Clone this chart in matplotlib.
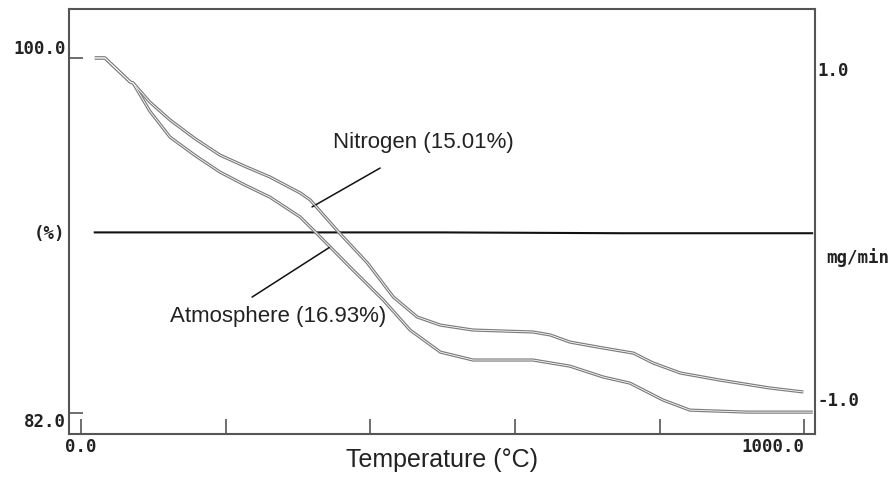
import matplotlib
matplotlib.use("Agg")
import matplotlib.pyplot as plt

# TG curves (weight %, vs temperature in C)
temp_n2 = [19, 33, 68, 72, 95, 123, 158, 192, 227, 261, 303, 317, 356, 396,
           432, 465, 497, 542, 625, 649, 676, 722, 764, 791, 829, 884, 953, 999]
wt_n2 = [100.0, 100.0, 98.78, 98.73, 97.77, 96.86, 95.90, 95.08, 94.50, 93.97,
         93.16, 92.80, 91.18, 89.61, 87.88, 86.87, 86.46, 86.21, 86.11, 85.96,
         85.60, 85.30, 85.04, 84.54, 84.03, 83.67, 83.27, 83.07]

temp_air = [19, 33, 68, 72, 95, 123, 158, 192, 227, 261, 303, 324, 372, 418,
            455, 497, 542, 625, 676, 722, 759, 805, 842, 921, 1012]
wt_air = [100.0, 100.0, 98.78, 98.73, 97.31, 95.99, 95.05, 94.22, 93.55, 92.95,
          91.94, 91.18, 89.40, 87.73, 86.21, 85.09, 84.69, 84.69, 84.38, 83.83,
          83.52, 82.66, 82.15, 82.05, 82.05]

# DTG trace (mg/min), essentially flat
temp_dtg = [19, 250, 500, 750, 1011]
dtg = [0.01, 0.01, 0.01, 0.005, 0.005]

x_ticks = [0, 200, 400, 600, 800, 1000]
x_labels = ["0.0", "", "", "", "", "1000.0"]
y_ticks = [82.0, 100.0]
y_labels = ["82.0", "100.0"]
y2_ticks = [-1.0, 1.0]
y2_labels = ["-1.0", "1.0"]

mono = {"family": "DejaVu Sans Mono", "weight": "bold", "size": 12.5}
sans = "Liberation Sans"

fig = plt.figure(figsize=(8.92, 4.8), dpi=100)
ax = fig.add_axes([0.0774, 0.0958, 0.8363, 0.8854])

for t, w in [(temp_air, wt_air), (temp_n2, wt_n2)]:
    ax.plot(t, w, color="#7c7c7c", lw=2.3, solid_capstyle="butt", zorder=3)
    ax.plot(t, w, color="white", lw=0.6, zorder=4)

ax.set_xlim(-16.6, 1015)
ax.set_ylim(80.94, 102.48)

ax.set_xticks(x_ticks)
ax.set_xticklabels(x_labels, fontdict=mono, color="#222222")
ax.set_yticks(y_ticks)
ax.set_yticklabels(y_labels, fontdict=mono, color="#222222")
ax.tick_params(axis="x", direction="in", length=11, width=1.2, color="#555555", pad=3)
ax.tick_params(axis="y", direction="in", length=10, width=1.2, color="#555555", pad=2)
xl = ax.get_xticklabels()
xl[-1].set_ha("right")
yl = ax.get_yticklabels()
yl[0].set_va("top")
yl[1].set_va("bottom")

for s in ax.spines.values():
    s.set_color("#555555")
    s.set_linewidth(1.5)

ax2 = ax.twinx()
ax2.plot(temp_dtg, dtg, color="#111111", lw=1.5, zorder=2)
ax2.set_ylim(-1.212, 1.364)
ax2.set_yticks(y2_ticks)
ax2.set_yticklabels(y2_labels, fontdict=mono, color="#222222")
ax2.tick_params(axis="y", length=0, pad=2)
for s in ax2.spines.values():
    s.set_visible(False)
ax.set_zorder(ax2.get_zorder() + 1)
ax.patch.set_visible(False)

ax.set_xlabel("Temperature (\u00b0C)", family=sans, fontsize=18, color="#222222", labelpad=-6)

fig.text(0.056, 0.512, "(%)", fontdict=mono, color="#222222", ha="center", va="center")
fig.text(0.926, 0.463, "mg/min", fontdict=mono, color="#222222", ha="left", va="center")

# labels with leader lines
ax.annotate("", xy=(319.5, 92.45), xytext=(413.6, 94.42),
            arrowprops=dict(arrowstyle="-", color="#111111", lw=1.1, shrinkA=0, shrinkB=0))
ax.annotate("", xy=(344.4, 90.42), xytext=(236.5, 87.88),
            arrowprops=dict(arrowstyle="-", color="#111111", lw=1.1, shrinkA=0, shrinkB=0))
ax.text(473, 95.69, "Nitrogen (15.01%)", family=sans, fontsize=16, color="#222222",
        ha="center", va="center")
ax.text(272, 86.9, "Atmosphere (16.93%)", family=sans, fontsize=16, color="#222222",
        ha="center", va="center")

fig.savefig("out.png", dpi=100, facecolor="white")
